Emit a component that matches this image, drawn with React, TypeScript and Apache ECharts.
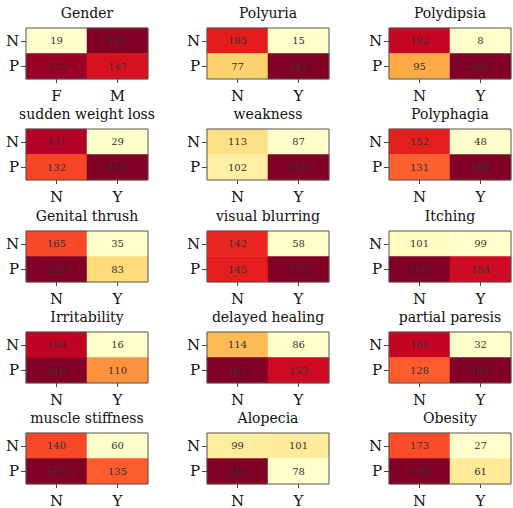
import React, { useEffect, useRef } from "react";
import * as echarts from "echarts";

const titles = [
  "Gender", "Polyuria", "Polydipsia",
  "sudden weight loss", "weakness", "Polyphagia",
  "Genital thrush", "visual blurring", "Itching",
  "Irritability", "delayed healing", "partial paresis",
  "muscle stiffness", "Alopecia", "Obesity",
];
const genderCats = ["F", "M"];
const yesNoCats = ["N", "Y"];
const classCats = ["N", "P"];
// counts: [class N, first col], [class N, second col], [class P, first col], [class P, second col]
const negFirst = [19, 185, 192, 171, 113, 152, 165, 142, 101, 184, 114, 168, 140, 99, 173];
const negSecond = [181, 15, 8, 29, 87, 48, 35, 58, 99, 16, 86, 32, 60, 101, 27];
const posFirst = [173, 77, 95, 132, 102, 131, 239, 145, 166, 210, 167, 128, 185, 242, 259];
const posSecond = [147, 243, 225, 188, 218, 189, 83, 175, 154, 110, 153, 192, 135, 78, 61];

const ylOrRd = ["#ffffcc", "#ffeda0", "#fed976", "#feb24c", "#fd8d3c", "#fc4e2a", "#e31a1c", "#bd0026", "#800026"];

const SERIF = "DejaVu Serif";

export default function App() {
  const ref = useRef<HTMLDivElement>(null);
  useEffect(() => {
    if (!ref.current) return;
    const chart = echarts.init(ref.current, null, { renderer: "svg" });
    const lefts = [26, 207, 389];
    const tops = [28, 129, 231, 332, 433];
    const W = 122;
    const H = 51;
    const grids: any[] = [];
    const xAxes: any[] = [];
    const yAxes: any[] = [];
    const series: any[] = [];
    const visualMaps: any[] = [];
    const titleOpts: any[] = [];
    const frames: any[] = [];
    titles.forEach((t, i) => {
      const col = i % 3;
      const row = Math.floor(i / 3);
      const left = lefts[col];
      const top = tops[row];
      grids.push({ left, top, width: W, height: H, containLabel: false });
      xAxes.push({
        type: "category",
        gridIndex: i,
        data: i === 0 ? genderCats : yesNoCats,
        position: "bottom",
        axisLine: { show: false },
        axisTick: { show: true, alignWithLabel: true, length: 4, lineStyle: { color: "#444" } },
        axisLabel: { fontFamily: SERIF, fontSize: 15, color: "#111", margin: 9 },
        splitLine: { show: false },
      });
      yAxes.push({
        type: "category",
        gridIndex: i,
        data: classCats,
        inverse: true,
        axisLine: { show: false },
        axisTick: { show: true, alignWithLabel: true, length: 5, lineStyle: { color: "#444" } },
        axisLabel: { fontFamily: SERIF, fontSize: 15, color: "#111", margin: 7 },
        splitLine: { show: false },
      });
      const vals = [negFirst[i], negSecond[i], posFirst[i], posSecond[i]];
      const data = [
        [0, 0, negFirst[i]],
        [1, 0, negSecond[i]],
        [0, 1, posFirst[i]],
        [1, 1, posSecond[i]],
      ];
      series.push({
        type: "heatmap",
        xAxisIndex: i,
        yAxisIndex: i,
        data,
        label: {
          show: true,
          formatter: (p: any) => String(p.value[2]),
          fontFamily: SERIF,
          fontSize: 10,
          color: "#333",
        },
        emphasis: { disabled: true },
      });
      visualMaps.push({
        type: "continuous",
        show: false,
        seriesIndex: i,
        dimension: 2,
        min: Math.min(...vals),
        max: Math.max(...vals),
        inRange: { color: ylOrRd },
      });
      titleOpts.push({
        text: t,
        left: left + W / 2,
        top: top - 22,
        textAlign: "center",
        padding: 0,
        textStyle: { fontFamily: SERIF, fontSize: 14, fontWeight: "normal", color: "#111" },
      });
      frames.push({
        type: "rect",
        shape: { x: left, y: top, width: W, height: H },
        style: { fill: "none", stroke: "#555", lineWidth: 1 },
        z: 100,
        silent: true,
      });
    });
    chart.setOption({
      animation: false,
      backgroundColor: "#ffffff",
      title: titleOpts,
      grid: grids,
      xAxis: xAxes,
      yAxis: yAxes,
      visualMap: visualMaps,
      series,
      graphic: frames,
    });
    return () => chart.dispose();
  }, []);
  return (
    <div
      ref={ref}
      style={{ position: "absolute", left: 0, top: 0, width: 513, height: 508 }}
    />
  );
}
